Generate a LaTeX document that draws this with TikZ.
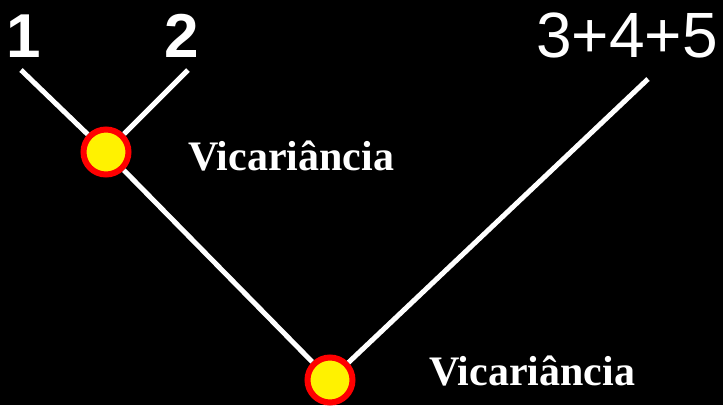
\documentclass[tikz,border=0pt]{standalone}
\usepackage{fontspec}
\setmainfont{Liberation Serif}
\newfontfamily\numfont{Liberation Sans}
\usepackage{tikz}
\usetikzlibrary{positioning}

\begin{document}
\begin{tikzpicture}[
  x=1pt, y=-1pt,
  event/.style={draw=red, fill=yellow, circle, line width=6pt, minimum size=45pt, inner sep=0pt},
  branch/.style={draw=white, line width=5pt},
  taxon/.style={text=white, anchor=base, inner sep=0pt, font=\numfont\fontsize{64}{64}\selectfont},
  vlabel/.style={text=white, anchor=base west, inner sep=0pt, font=\bfseries\fontsize{42}{42}\selectfont}
]
\useasboundingbox (0,0) rectangle (723,405);
\fill[black] (0,0) rectangle (723,405);
\node[taxon, font=\numfont\bfseries\fontsize{62}{62}\selectfont] (t1) at (24,57) {1};
\node[taxon, font=\numfont\bfseries\fontsize{62}{62}\selectfont] (t2) at (182,57) {2};
\node[taxon] (t345) at (627,57) {3+4+5};
\coordinate (e1) at (21,70);
\coordinate (e2) at (188,70);
\coordinate (e345) at (648,79);
\node[event] (v12) at (106,152) {};
\node[event] (vroot) at (330,380) {};
\draw[branch] (e1) -- (v12);
\draw[branch] (e2) -- (v12);
\draw[branch] (v12) -- (vroot);
\draw[branch] (e345) -- (vroot);
\node[vlabel] (lab12) at (188,170) {Vicariância};
\node[vlabel] (labroot) at (429,385) {Vicariância};
\end{tikzpicture}
\end{document}
